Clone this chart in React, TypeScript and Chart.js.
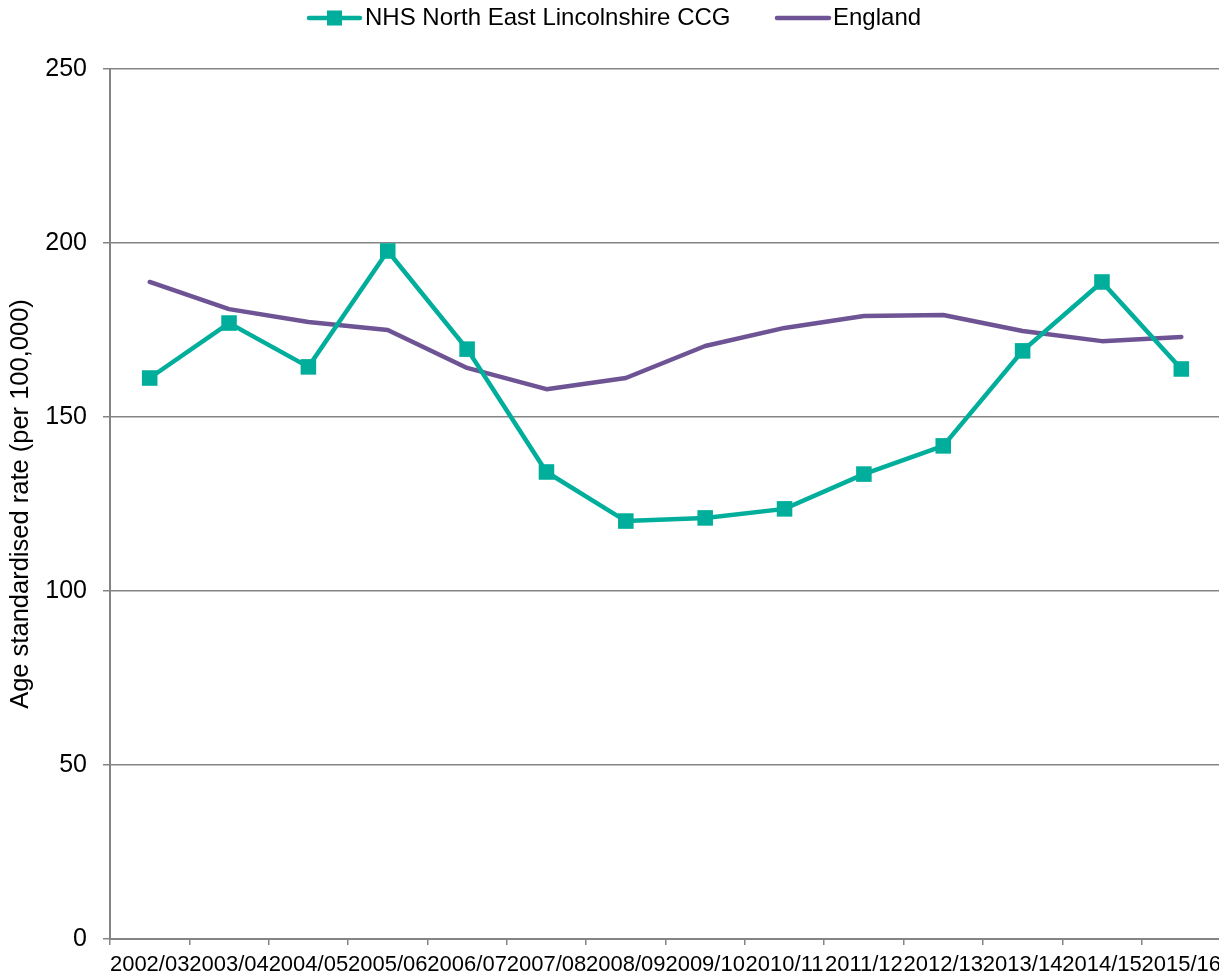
import React, { useEffect, useRef } from "react";
import { Chart, registerables } from "chart.js";

Chart.register(...registerables);

const categories = [
  "2002/03", "2003/04", "2004/05", "2005/06", "2006/07", "2007/08", "2008/09",
  "2009/10", "2010/11", "2011/12", "2012/13", "2013/14", "2014/15", "2015/16",
];
const nhsValues = [161.2, 177.0, 164.4, 197.7, 169.5, 134.2, 120.1, 121.0, 123.6, 133.6, 141.7, 169.0, 188.8, 163.8];
const englandValues = [188.8, 181.0, 177.3, 175.0, 164.1, 158.0, 161.2, 170.4, 175.6, 179.0, 179.3, 174.7, 171.8, 173.0];
const yTicks = [0, 50, 100, 150, 200, 250];
const seriesNames = ["NHS North East Lincolnshire CCG", "England"];

const TEAL = "#00AE9B";
const PURPLE = "#6E5494";
const GRID = "#848484";
const FONT = "'Liberation Sans', Arial, sans-serif";

const legendPlugin = {
  id: "manualLegend",
  afterDraw(chart: any) {
    const ctx = chart.ctx as CanvasRenderingContext2D;
    ctx.save();
    ctx.font = `24px ${FONT}`;
    ctx.textBaseline = "middle";
    ctx.textAlign = "left";
    const y = 18;
    ctx.strokeStyle = TEAL;
    ctx.lineWidth = 4.5;
    ctx.lineCap = "round";
    ctx.beginPath();
    ctx.moveTo(309, y);
    ctx.lineTo(360, y);
    ctx.stroke();
    ctx.fillStyle = TEAL;
    ctx.fillRect(327, y - 7.5, 15, 15);
    ctx.fillStyle = "#000";
    ctx.fillText(seriesNames[0], 365, y);
    ctx.strokeStyle = PURPLE;
    ctx.lineWidth = 4.5;
    ctx.beginPath();
    ctx.moveTo(777, y);
    ctx.lineTo(829, y);
    ctx.stroke();
    ctx.fillStyle = "#000";
    ctx.fillText(seriesNames[1], 833, y);
    ctx.restore();
  },
};

export default function App() {
  const ref = useRef<HTMLCanvasElement | null>(null);

  useEffect(() => {
    if (!ref.current) return;
    const chart = new Chart(ref.current, {
      type: "line",
      data: {
        labels: categories,
        datasets: [
          {
            label: seriesNames[0],
            data: nhsValues,
            borderColor: TEAL,
            backgroundColor: TEAL,
            borderWidth: 4.5,
            pointStyle: "rect",
            pointRadius: 11,
            pointBorderWidth: 0,
            pointBackgroundColor: TEAL,
            tension: 0,
          },
          {
            label: seriesNames[1],
            data: englandValues,
            borderColor: PURPLE,
            backgroundColor: PURPLE,
            borderWidth: 4.5,
            borderCapStyle: "round",
            borderJoinStyle: "round",
            pointRadius: 0,
            tension: 0,
          },
        ],
      },
      plugins: [legendPlugin],
      options: {
        responsive: false,
        devicePixelRatio: 1,
        animation: false,
        layout: { padding: { top: 69, left: 0, right: 0, bottom: 0 } },
        plugins: {
          tooltip: { enabled: false },
          legend: { display: false },
        },
        scales: {
          x: {
            offset: true,
            afterFit: (scale: any) => {
              scale.height = 36;
              scale.paddingRight = 0;
              scale.paddingLeft = 0;
            },
            grid: {
              display: true,
              offset: true,
              drawOnChartArea: false,
              drawTicks: true,
              tickLength: 6,
              color: GRID,
              lineWidth: 1.5,
            },
            border: { display: true, color: GRID, width: 2 },
            ticks: {
              autoSkip: false,
              maxRotation: 0,
              minRotation: 0,
              padding: 7,
              color: "#000",
              font: { family: FONT, size: 22 },
            },
          },
          y: {
            min: 0,
            max: 250,
            afterBuildTicks: (scale: any) => {
              scale.ticks = yTicks.map((v) => ({ value: v }));
            },
            afterFit: (scale: any) => {
              scale.width = 110;
            },
            grid: {
              color: GRID,
              lineWidth: 1.5,
              drawTicks: true,
              tickLength: 7,
            },
            border: { display: true, color: GRID, width: 2 },
            ticks: {
              padding: 16,
              color: "#000",
              font: { family: FONT, size: 25 },
            },
            title: {
              display: true,
              text: "Age standardised rate (per 100,000)",
              color: "#000",
              font: { family: FONT, size: 25.5 },
              padding: { top: 6, bottom: 0 },
            },
          },
        },
      },
    });
    return () => chart.destroy();
  }, []);

  return (
    <div style={{ position: "absolute", left: 0, top: 0, width: 1219, height: 975, background: "#fff", overflow: "hidden" }}>
      <canvas ref={ref} width={1232} height={975} />
    </div>
  );
}
